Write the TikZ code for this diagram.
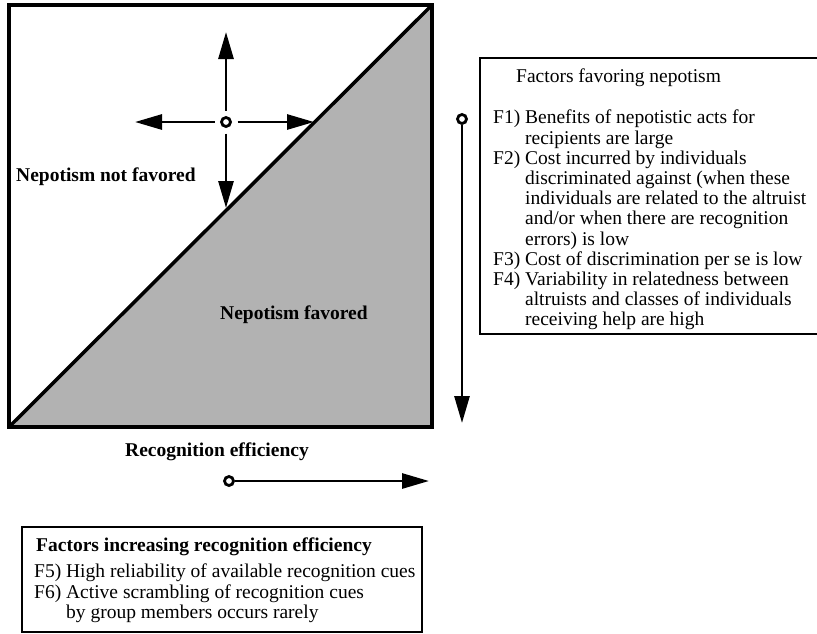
\documentclass[tikz,border=0pt]{standalone}
\usepackage{fontspec}
\setmainfont{Liberation Serif}
\usepackage{tikz}
\usetikzlibrary{arrows.meta}
\usetikzlibrary{positioning}

\newcommand{\fgap}{\phantom{F1) }}

\tikzset{
  hub/.style={circle,draw,fill=white,line width=2.8pt,minimum size=9pt,inner sep=0pt},
  arr/.style={line width=2.8pt,-{Triangle[length=27pt,width=15pt]}},
  lbl/.style={font=\fontsize{19.5}{20}\selectfont\bfseries,inner sep=0pt},
  txt/.style={font=\fontsize{19.5}{20.2}\selectfont,inner sep=0pt,align=left}
}

\begin{document}
\begin{tikzpicture}[x=1pt,y=-1pt]
\useasboundingbox (0,0) rectangle (817,633);
\clip (0,0) rectangle (817,633);

% square split by the diagonal
\fill[black!30] (9,427) -- (432,5) -- (432,427) -- cycle;
\draw[line width=3.5pt] (9,427) -- (432,5);
\draw[line width=3.5pt] (9,5) rectangle (432,427);

% cross of arrows
\node[hub,outer sep=7pt] (p) at (226,122) {};
\coordinate (up) at (226,32);
\coordinate (lt) at (135,122);
\coordinate (rt) at (314,122);
\coordinate (dn) at (226,208);
\draw[arr] (p) -- (up);
\draw[arr] (p) -- (lt);
\draw[arr] (p) -- (rt);
\draw[arr] (p) -- (dn);

\node[lbl,anchor=base west] (notfav) at (16,181) {Nepotism not favored};
\node[lbl,anchor=base west] (fav) at (220,319) {Nepotism favored};
\node[lbl,anchor=base] (receff) at (217,456) {Recognition efficiency};

% vertical arrow
\node[hub] (q) at (462,119) {};
\coordinate (qend) at (462,423);
\draw[arr] (q) -- (qend);

% horizontal arrow
\node[hub] (r) at (229,481) {};
\coordinate (rend) at (429,481);
\draw[arr] (r) -- (rend);

% factors favoring nepotism
\draw[line width=2pt] (480,58) rectangle (840,334);
\node[txt,anchor=base west] (fhead) at (516,82) {Factors favoring nepotism};
\node[txt,anchor=north west] (flist) at (493,110) {F1) Benefits of nepotistic acts for\\
\fgap recipients are large\\
F2) Cost incurred by individuals\\
\fgap discriminated against (when these\\
\fgap individuals are related to the altruist\\
\fgap and/or when there are recognition\\
\fgap errors) is low\\
F3) Cost of discrimination per se is low\\
F4) Variability in relatedness between\\
\fgap altruists and classes of individuals\\
\fgap receiving help are high};

% factors increasing recognition efficiency
\draw[line width=2pt] (22,527) rectangle (422,632);
\node[lbl,anchor=base west] (ehead) at (36,551) {Factors increasing recognition efficiency};
\node[txt,anchor=north west] (elist) at (34,564) {F5) High reliability of available recognition cues\\
F6) Active scrambling of recognition cues\\
\fgap by group members occurs rarely};

\end{tikzpicture}
\end{document}
